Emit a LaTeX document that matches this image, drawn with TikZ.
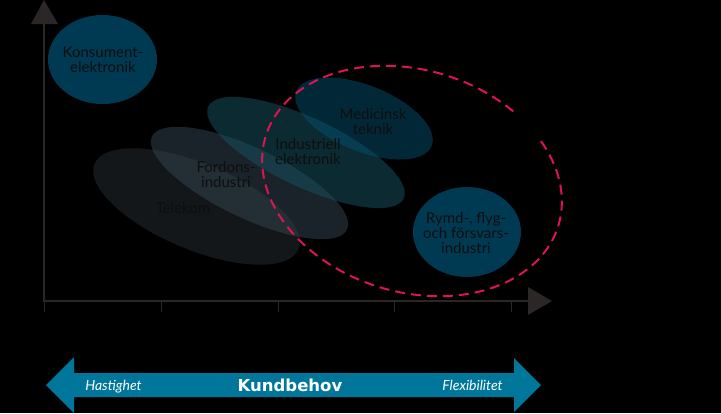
\documentclass[tikz,border=0pt]{standalone}
\usepackage{fontspec}
\setmainfont{Lato}
\newfontfamily\kfont{DejaVu Sans}
\usetikzlibrary{shapes.geometric}
\definecolor{axiscol}{HTML}{2B2727}
\definecolor{txt}{HTML}{0E0E0E}
\definecolor{teal}{HTML}{003A52}
\definecolor{telc}{HTML}{262E32}
\definecolor{forc}{HTML}{344652}
\definecolor{indc}{HTML}{165464}
\definecolor{medc}{HTML}{045070}
\definecolor{redd}{HTML}{DC1450}
\definecolor{arrowc}{HTML}{00779A}
\begin{document}
\begin{tikzpicture}[x=1pt,y=-1pt,
  blob/.style={ellipse, inner sep=0pt, draw=none},
  tblob/.style={blob, fill opacity=0.5},
  lbl/.style={text=txt, align=center, inner sep=0pt, font=\fontsize{15}{15}\selectfont},
  axisline/.style={draw=axiscol, line width=2pt},
  tickline/.style={draw=axiscol, line width=1pt},
  itl/.style={text=white, inner sep=0pt, anchor=base, font=\fontsize{14}{14}\selectfont\itshape},
  redline/.style={draw=redd, line width=2pt, dash pattern=on 10pt off 6pt}]
\useasboundingbox (0,0) rectangle (721,413);
\fill[black] (0,0) rectangle (721,413);
% axes
\draw[axisline] (44,301) -- (44,22);
\fill[axiscol] (31,24) -- (44,0) -- (58,24) -- cycle;
\draw[axisline] (43,301) -- (529,301);
\fill[axiscol] (528,287) -- (552,301) -- (528,315) -- cycle;
\foreach \tx in {44.5,161,278,394,511} \draw[tickline] (\tx,301) -- (\tx,312);
% ellipses
\node[blob, fill=teal, minimum width=109pt, minimum height=89pt] (kons) at (102.5,59.5) {};
\node[tblob, fill=telc, minimum width=221pt, minimum height=86pt, rotate=-22.7] (tele) at (196.5,206.5) {};
\node[tblob, fill=forc, minimum width=216pt, minimum height=70pt, rotate=-25.5] (ford) at (249.5,183) {};
\node[tblob, fill=indc, minimum width=216pt, minimum height=69pt, rotate=-25.2] (indu) at (306,152.5) {};
\node[tblob, fill=medc, minimum width=146pt, minimum height=66pt, rotate=-22] (medi) at (364,118.5) {};
\node[blob, fill=teal, minimum width=108pt, minimum height=90pt] (rymd) at (467,232) {};
% labels
\node[lbl] (konsT) at (103,60) {Konsument-\\elektronik};
\node[lbl] (teleT) at (183,208) {Telekom};
\node[lbl] (fordT) at (226,175) {Fordons-\\industri};
\node[lbl] (induT) at (308,152) {Industriell\\elektronik};
\node[lbl] (mediT) at (373,122) {Medicinsk\\teknik};
\node[lbl] (rymdT) at (466,233) {Rymd-, flyg-\\och försvars-\\industri};
% dashed ellipse
\begin{scope}[shift={(412,181)}, rotate=-17]
\draw[redline] (60:153pt and 111pt) arc[start angle=60, end angle=404, x radius=153pt, y radius=111pt];
\end{scope}
% bottom double arrow
\fill[arrowc] (46,385) -- (74,357) -- (74,373) -- (514,373) -- (514,358) -- (541,385) -- (514,412) -- (514,397) -- (74,397) -- (74,413) -- cycle;
\node[itl] (hast) at (113.5,390) {Hastighet};
\node[text=white, inner sep=0pt, anchor=base, font=\fontsize{16.5}{16.5}\selectfont\kfont\bfseries] (kund) at (290,391) {Kundbehov};
\node[itl] (flex) at (472.5,390) {Flexibilitet};
\end{tikzpicture}
\end{document}
